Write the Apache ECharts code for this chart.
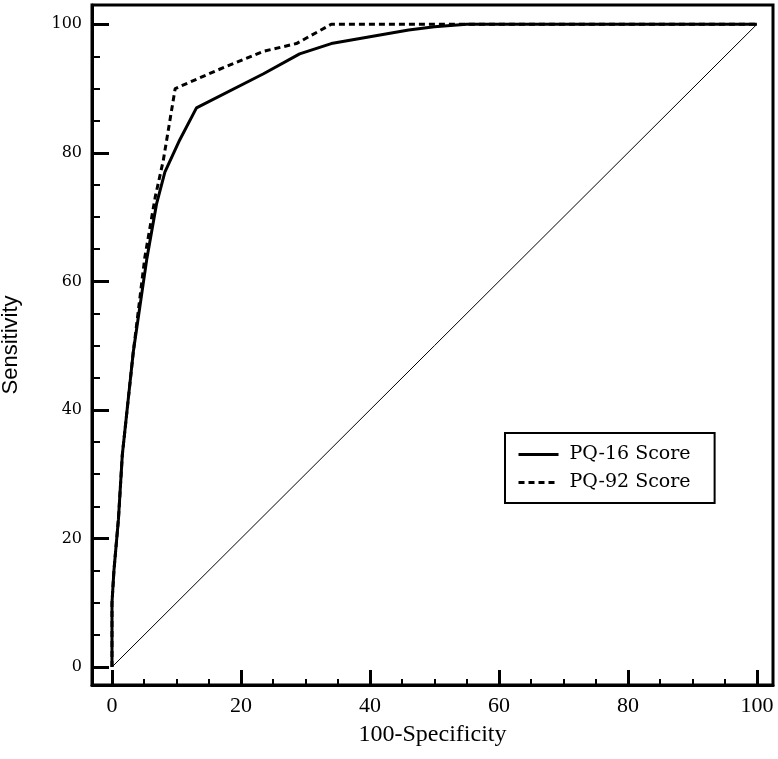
<!DOCTYPE html>
<html><head><meta charset="utf-8">
<script src="https://cdn.jsdelivr.net/npm/echarts@6/dist/echarts.min.js"></script>
<style>html,body{margin:0;padding:0;background:#fff}#c{width:778px;height:759px}</style>
</head><body><div id="c"></div>
<script>
// ---- data ----
const majorTicks = [0, 20, 40, 60, 80, 100];
const minorTicks = [5, 10, 15, 25, 30, 35, 45, 50, 55, 65, 70, 75, 85, 90, 95];
const seriesNames = ['PQ-16 Score', 'PQ-92 Score'];
const pq16X = [0, 0, 0.3, 1.0, 1.6, 3.3, 5.4, 6.9, 8.2, 10.5, 13.1, 23.5, 29.1, 34, 46, 50, 55, 100];
const pq16Y = [0, 10, 15, 23, 33, 49, 63.5, 72, 77, 82, 87, 92.3, 95.4, 97, 99.1, 99.6, 100, 100];
const pq92X = [0, 0, 0.3, 1.0, 1.6, 3.3, 5.1, 6.7, 7.95, 9.8, 16.2, 23.5, 28.6, 34, 100];
const pq92Y = [0, 10, 15, 23, 33, 49, 63.8, 73.1, 78.8, 90, 92.8, 95.8, 97, 100, 100];
const refX = [0, 100];
const refY = [0, 100];
const xName = '100-Specificity';
const yName = 'Sensitivity';

const zip = (a, b) => a.map((v, i) => [v, b[i]]);
const xMin = -3.1, xMax = 102.5, yMin = -2.8, yMax = 103;

const chart = echarts.init(document.getElementById('c'), null, {renderer: 'canvas'});
const xBase = {type: 'value', min: xMin, max: xMax, position: 'bottom', splitLine: {show: false}};
const yBase = {type: 'value', min: yMin, max: yMax, position: 'left', splitLine: {show: false}};
chart.setOption({
  backgroundColor: '#fff',
  animation: false,
  grid: {left: 92, right: 5, top: 5, bottom: 74, show: true, borderColor: '#000', borderWidth: 3,
         containLabel: false, outerBoundsMode: 'none'},
  legend: {
    data: seriesNames, orient: 'vertical', left: 505, top: 433,
    borderColor: '#000', borderWidth: 2, padding: [12, 24, 11, 12],
    itemWidth: 40, itemHeight: 14, itemGap: 9,
    itemStyle: {opacity: 0},
    lineStyle: {width: 3},
    textStyle: {fontFamily: 'DejaVu Serif', fontSize: 19, color: '#000', padding: [0, 0, 0, 6]}
  },
  xAxis: [
    Object.assign({}, xBase, {
      axisLine: {show: true, onZero: false, lineStyle: {color: '#000', width: 3}},
      axisTick: {show: true, inside: true, length: 15, customValues: majorTicks, lineStyle: {color: '#000', width: 3}},
      axisLabel: {show: true, customValues: majorTicks, margin: 10, color: '#000', fontFamily: 'Liberation Serif', fontSize: 22},
      name: xName, nameLocation: 'middle', nameGap: 38,
      nameTextStyle: {color: '#000', fontFamily: 'Liberation Serif', fontSize: 24}
    }),
    Object.assign({}, xBase, {
      axisLine: {show: false, onZero: false},
      axisTick: {show: true, inside: true, length: 6, customValues: minorTicks, lineStyle: {color: '#000', width: 2}},
      axisLabel: {show: false}
    })
  ],
  yAxis: [
    Object.assign({}, yBase, {
      axisLine: {show: true, onZero: false, lineStyle: {color: '#000', width: 3}},
      axisTick: {show: true, inside: true, length: 17, customValues: majorTicks, lineStyle: {color: '#000', width: 3}},
      axisLabel: {show: true, customValues: majorTicks, margin: 10, color: '#000', fontFamily: 'DejaVu Serif', fontSize: 16},
      name: yName, nameLocation: 'middle', nameRotate: 90, nameGap: 70,
      nameTextStyle: {color: '#000', fontFamily: 'Liberation Sans', fontSize: 22}
    }),
    Object.assign({}, yBase, {
      axisLine: {show: false, onZero: false},
      axisTick: {show: true, inside: true, length: 8, customValues: minorTicks, lineStyle: {color: '#000', width: 2}},
      axisLabel: {show: false}
    })
  ],
  series: [
    {name: 'reference', type: 'line', data: zip(refX, refY), symbol: 'none', silent: true,
     lineStyle: {color: '#000', width: 1}},
    {name: seriesNames[0], type: 'line', data: zip(pq16X, pq16Y), symbol: 'none', showSymbol: false,
     itemStyle: {color: '#000'}, lineStyle: {color: '#000', width: 3, type: 'solid'}},
    {name: seriesNames[1], type: 'line', data: zip(pq92X, pq92Y), symbol: 'none', showSymbol: false,
     itemStyle: {color: '#000'}, lineStyle: {color: '#000', width: 3, type: [6, 4]}}
  ]
});
</script></body></html>
